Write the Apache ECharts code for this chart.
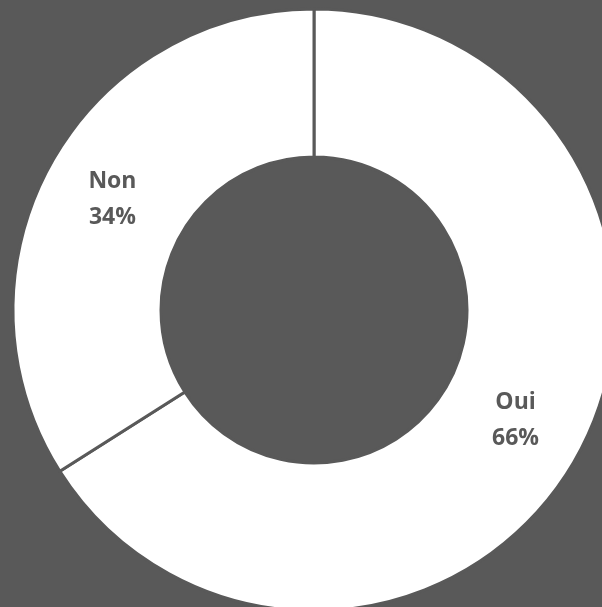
<!DOCTYPE html>
<html><head><meta charset="utf-8">
<script src="https://cdn.jsdelivr.net/npm/echarts@6/dist/echarts.min.js"></script>
<style>html,body{margin:0;padding:0;background:#595959;}#c{width:602px;height:607px;}</style>
</head><body><div id="c"></div>
<script>
const categories = ['Oui', 'Non'];
const values = [66, 34];
const chart = echarts.init(document.getElementById('c'));
chart.setOption({
  backgroundColor: '#595959',
  animation: false,
  series: [{
    type: 'pie',
    center: [314, 310],
    radius: [153, 301],
    startAngle: 90,
    clockwise: true,
    data: categories.map((c, i) => ({ name: c, value: values[i] })),
    itemStyle: { color: '#ffffff', borderColor: '#595959', borderWidth: 3 },
    label: {
      show: true,
      position: 'inside',
      formatter: p => p.name + '\n' + p.value + '%',
      color: '#595959',
      fontFamily: 'Open Sans',
      fontWeight: 'bold',
      fontSize: 23,
      lineHeight: 36
    },
    labelLine: { show: false },
    emphasis: { disabled: true }
  }]
});
</script></body></html>
